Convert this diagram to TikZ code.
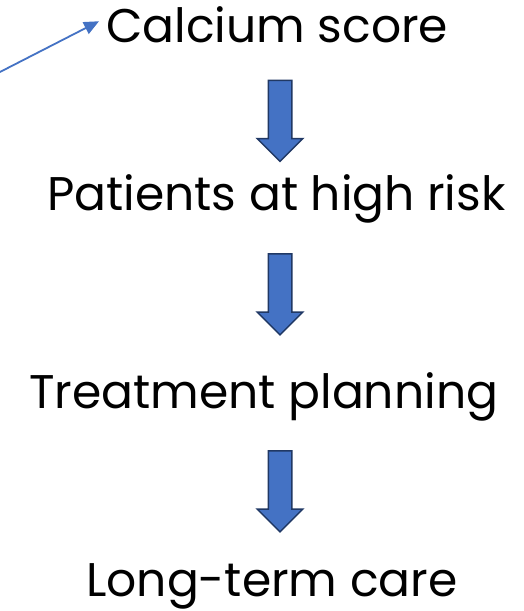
\documentclass[tikz,border=0pt]{standalone}
\usepackage{fontspec}
\setmainfont{Poppins}
\usetikzlibrary{arrows.meta, positioning, calc, shapes.arrows}
\definecolor{ofblue}{HTML}{4472C4}
\definecolor{ofnavy}{HTML}{203864}

\begin{document}
\begin{tikzpicture}[
  x=1bp, y=-1bp,
  >={Triangle[length=15bp, width=13bp]},
  stagetext/.style={anchor=base west, inner sep=0pt, text=black,
    font=\fontsize{47.2bp}{56bp}\selectfont},
  downarrow/.style={single arrow, draw=ofnavy, fill=ofblue, line width=1.5bp,
    rotate=-90, minimum height=81bp, minimum width=44bp, inner xsep=0pt,
    inner ysep=11bp, single arrow head extend=11bp},
  thinarr/.style={->, line width=1.8bp, ofblue},
]

% Background
\fill[white] (0,0) rectangle (524,611);
\useasboundingbox (0,0) rectangle (524,611);

% === Stage texts ===
\node[stagetext] (calcium) at (106,43) {Calcium score};
\node[stagetext] (risk) at (47,210) {Patients at high risk};
\node[stagetext] (plan) at (29,408) {Treatment planning};
\node[stagetext] (care) at (86,596) {Long-term care};

% === Block arrows ===
\node[downarrow] (arrA) at (280,115) {};
\node[downarrow] (arrB) at (280,288.5) {};
\node[downarrow] (arrC) at (280,485.5) {};

% Incoming arrow from the left edge
\coordinate (src) at (-2,73);
\draw[thinarr] (src) -- ($(calcium.west)+(-7,-4)$);

\end{tikzpicture}
\end{document}
